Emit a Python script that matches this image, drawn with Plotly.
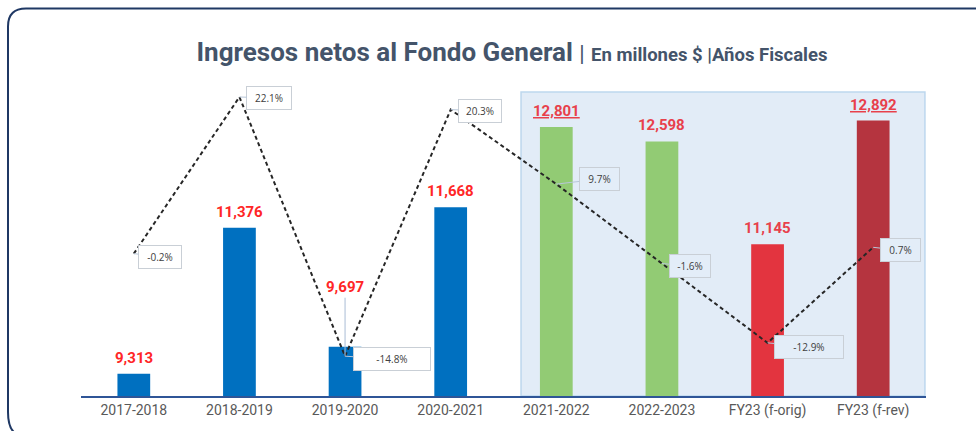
import plotly.graph_objects as go

categories = ["2017-2018", "2018-2019", "2019-2020", "2020-2021",
              "2021-2022", "2022-2023", "FY23 (f-orig)", "FY23 (f-rev)"]
revenue = [9313, 11376, 9697, 11668, 12801, 12598, 11145, 12892]
growth_pct = [-0.2, 22.1, -14.8, 20.3, 9.7, -1.6, -12.9, 0.7]
underlined = [False, False, False, False, True, False, False, True]

bar_colors = ["#0070C0", "#0070C0", "#0070C0", "#0070C0",
              "#92CB74", "#92CB74", "#E3343F", "#B5343F"]

W, H = 976, 431
L, R, T, B = 81, 50, 88, 33
pw, ph = W - L - R, H - T - B


def px(x):
    return (x - L) / pw


def py(y):
    return (H - B - y) / ph


fig = go.Figure()

fig.add_trace(go.Bar(
    x=categories, y=revenue, width=0.31,
    marker=dict(color=bar_colors, line=dict(width=0)),
    hoverinfo="x+y", showlegend=False,
))

fig.add_trace(go.Scatter(
    x=categories, y=growth_pct, yaxis="y2", mode="lines",
    line=dict(color="#262626", width=2, dash="4px,3px"),
    showlegend=False,
))

annotations = []
# value labels
for i, (c, v) in enumerate(zip(categories, revenue)):
    txt = f"{v:,}"
    if underlined[i]:
        txt = f"<u>{txt}</u>"
    col = "#FF2626" if i < 4 else "#E8404B"
    if c == "2019-2020":
        annotations.append(dict(
            x=c, y=growth_pct[i], yref="y2", text=f"<b>{txt}</b>",
            showarrow=True, arrowhead=0, arrowwidth=1, arrowcolor="#A9BCD6",
            ax=0, ay=-69, yanchor="middle",
            font=dict(family="Roboto", size=15, color=col),
        ))
    else:
        annotations.append(dict(
            x=c, y=v, yref="y", text=f"<b>{txt}</b>", showarrow=False,
            yanchor="bottom", yshift=5,
            font=dict(family="Roboto", size=15, color=col),
        ))

# growth labels
offsets = [(26, 3, 38), (30, 1, 40), (47, 3, 72), (29, 1, 38),
           (43, -5, 35), (28, 3, 36), (41, 4, 64), (27, 3, 35)]
for i, (c, g) in enumerate(zip(categories, growth_pct)):
    ax, ay, w = offsets[i]
    bg = "#FFFFFF" if i < 4 else "#E3EDF8"
    annotations.append(dict(
        x=c, y=g, yref="y2", text=f"{g:.1f}%",
        showarrow=True, arrowhead=0, arrowwidth=1, arrowcolor="#B8C7D9",
        ax=ax, ay=ay, width=w, height=18,
        bgcolor=bg, bordercolor="#C9CFD6", borderwidth=1, borderpad=2,
        font=dict(family="Open Sans", size=10, color="#404040"),
    ))

shapes = [
    # highlighted forecast area
    dict(type="rect", xref="x", yref="paper", x0=3.666, x1=7.49,
         y0=0.0, y1=py(92), layer="below",
         fillcolor="#E2ECF7", line=dict(color="#BDD7EE", width=1.5)),
    # outer frame
    dict(type="path", xref="paper", yref="paper", layer="above",
         path=(f"M {px(978)},{py(8)} L {px(26)},{py(8)} "
               f"Q {px(8)},{py(8)} {px(8)},{py(26)} "
               f"L {px(8)},{py(414)} Q {px(8)},{py(431)} {px(16)},{py(436)}"),
         line=dict(color="#1F3864", width=2)),
]

fig.update_layout(
    width=W, height=H,
    margin=dict(l=L, r=R, t=T, b=B),
    paper_bgcolor="white", plot_bgcolor="white",
    title=dict(
        text=("<b>Ingresos netos al Fondo General</b> "
              "<span style='font-size:22px;font-weight:normal'>|</span> "
              "<span style='font-size:18.5px'><b>En millones $ |Años Fiscales</b></span>"),
        x=512 / W, xanchor="center", xref="container",
        y=1 - 52 / H, yanchor="middle", yref="container",
        font=dict(family="Roboto", size=26, color="#44546A"),
    ),
    xaxis=dict(
        type="category", showgrid=False, zeroline=False,
        showline=True, linecolor="#2F5597", linewidth=2,
        ticks="", tickfont=dict(family="Roboto", size=14, color="#595959"),
        range=[-0.5, 7.5],
    ),
    yaxis=dict(visible=False, range=[9000, 9000 + ph * 14.04]),
    yaxis2=dict(visible=False, overlaying="y", side="right",
                range=[-(H - B - 253.3) / 7.07, (253.3 - T) / 7.07]),
    bargap=0.69,
    annotations=annotations,
    shapes=shapes,
)

fig.write_html("out.html",
               config={"displayModeBar": False},
               post_script="document.body.style.margin='0px';"
                           "document.body.style.overflow='hidden';")
